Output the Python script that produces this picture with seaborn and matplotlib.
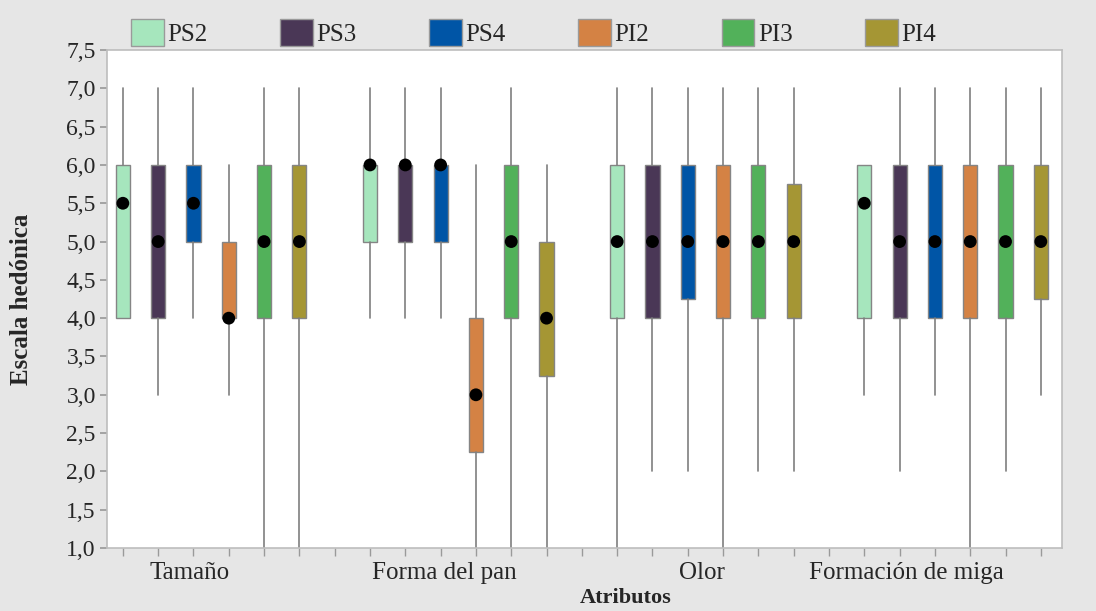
import matplotlib
matplotlib.use('Agg')
import matplotlib.pyplot as plt
from matplotlib.patches import Patch
from matplotlib.ticker import FixedLocator, FuncFormatter
import numpy as np
import pandas as pd
import seaborn as sns

# Categories and groups
attributes = ['Tamaño', 'Forma del pan', 'Olor', 'Formación de miga']
groups = ['PS2', 'PS3', 'PS4', 'PI2', 'PI3', 'PI4']
colors = ['#A6E6BD', '#4A3756', '#0055A6', '#D48244', '#52B15A', '#A59634']

# Five-number summaries (rows = attribute, columns = group)
mins = [[4, 3, 4, 3, 1, 1],
        [4, 4, 4, 1, 1, 1],
        [1, 2, 2, 1, 2, 2],
        [3, 2, 3, 1, 2, 3]]
q1s = [[4, 4, 5, 4, 4, 4],
       [5, 5, 5, 2.25, 4, 3.25],
       [4, 4, 4.25, 4, 4, 4],
       [4, 4, 4, 4, 4, 4.25]]
medians = [[5.5, 5, 5.5, 4, 5, 5],
           [6, 6, 6, 3, 5, 4],
           [5, 5, 5, 5, 5, 5],
           [5.5, 5, 5, 5, 5, 5]]
q3s = [[6, 6, 6, 5, 6, 6],
       [6, 6, 6, 4, 6, 5],
       [6, 6, 6, 6, 6, 5.75],
       [6, 6, 6, 6, 6, 6]]
maxs = [[7, 7, 7, 6, 7, 7],
        [7, 7, 7, 6, 7, 6],
        [7, 7, 7, 7, 7, 7],
        [6, 7, 7, 7, 7, 7]]

# Long table, one row per box
rows = []
for i, att in enumerate(attributes):
  for j, g in enumerate(groups):
    rows.append({'atributo': att, 'grupo': g, 'pos': i * 7 + j,
                 'min': mins[i][j], 'q1': q1s[i][j], 'med': medians[i][j],
                 'q3': q3s[i][j], 'max': maxs[i][j], 'color': colors[j]})
df = pd.DataFrame(rows)

sns.set_theme(style='white')
plt.rcParams['font.family'] = ['Liberation Serif', 'DejaVu Serif']

fig = plt.figure(figsize=(10.96, 6.11), dpi=100)
fig.patch.set_facecolor('#E6E6E6')
ax = fig.add_axes([0.0976, 0.1031, 0.8714, 0.815])
ax.set_facecolor('white')

stats = [dict(whislo=r['min'], q1=r['q1'], med=r['med'], q3=r['q3'],
              whishi=r['max'], fliers=[]) for _, r in df.iterrows()]
bp = ax.bxp(stats, positions=df['pos'], widths=0.4, patch_artist=True,
            showcaps=False, showfliers=False, manage_ticks=False,
            boxprops=dict(edgecolor='#858585', linewidth=1),
            whiskerprops=dict(color='#7F7F7F', linewidth=1.2),
            medianprops=dict(visible=False))
for patch, c in zip(bp['boxes'], df['color']):
  patch.set_facecolor(c)

# Median dots
sns.scatterplot(data=df, x='pos', y='med', color='black', s=85,
                edgecolor='none', legend=False, ax=ax, zorder=5)

ax.set_xlim(-0.45, 26.6)
ax.set_ylim(1.0, 7.5)
ax.set_yticks(np.arange(1.0, 7.51, 0.5))
ax.yaxis.set_major_formatter(FuncFormatter(lambda v, p: f'{v:.1f}'.replace('.', ',')))
ax.set_xticks([1.9, 9.1, 16.4, 22.2])
ax.set_xticklabels(attributes, fontsize=18)
ax.xaxis.set_minor_locator(FixedLocator(range(27)))
ax.tick_params(axis='x', which='major', length=0, pad=10)
ax.tick_params(axis='x', which='minor', length=6, color='#9A9A9A', direction='out', bottom=True)
ax.tick_params(axis='y', length=5, color='#9A9A9A', direction='out', left=True, labelsize=17, pad=3)
for s in ax.spines.values():
  s.set_color('#BDBDBD')
  s.set_linewidth(1.2)

ax.set_xlabel('Atributos', fontweight='bold', fontsize=16)
ax.xaxis.set_label_coords(0.543, -0.08)
ax.set_ylabel('Escala hedónica', fontweight='bold', fontsize=18)
ax.yaxis.set_label_coords(-0.077, 0.5)

handles = [Patch(facecolor=c, edgecolor='#9A9A9A') for c in colors]
fig.legend(handles, groups, loc='center', ncol=6, frameon=False,
           bbox_to_anchor=(0.487, 0.947), fontsize=18, handlelength=1.3,
           handleheight=1.25, handletextpad=0.15, columnspacing=2.9)

fig.savefig('out.png', dpi=100, facecolor=fig.get_facecolor())
